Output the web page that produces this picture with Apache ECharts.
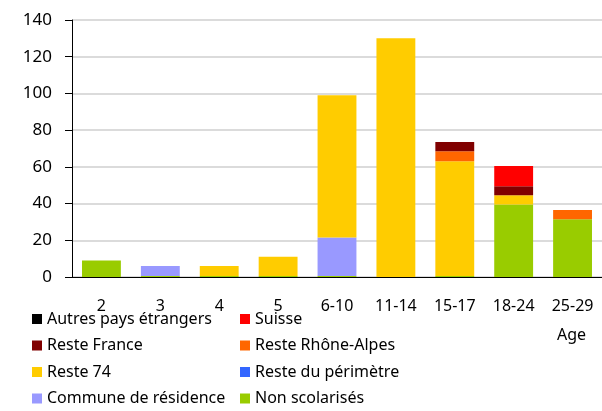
<!DOCTYPE html>
<html>
<head>
<meta charset="utf-8">
<script src="https://cdn.jsdelivr.net/npm/echarts@6/dist/echarts.min.js"></script>
<style>
    html, body { margin: 0; padding: 0; background: #fff; }
    #chart { width: 602px; height: 411px; }
</style>
</head>
<body>
<div id="chart"></div>
<script>
const categories = ['2', '3', '4', '5', '6-10', '11-14', '15-17', '18-24', '25-29']
const yTicks = [0, 20, 40, 60, 80, 100, 120, 140]

// stacked from bottom to top
const nonScolarises = [9, 0.5, 0.5, 0.5, 0.5, 0, 0.5, 39.5, 31.5]
const communeResidence = [0, 5.5, 0, 0, 21, 0, 0, 0, 0]
const restePerimetre = [0, 0, 0, 0, 0, 0, 0, 0, 0]
const reste74 = [0, 0, 5.5, 10.5, 77.5, 130, 62.5, 5, 0]
const resteRhoneAlpes = [0, 0, 0, 0, 0, 0, 5.5, 0, 5]
const resteFrance = [0, 0, 0, 0, 0, 0, 5, 5, 0]
const suisse = [0, 0, 0, 0, 0, 0, 0, 11, 0]
const autresPays = [0, 0, 0, 0, 0, 0, 0, 0, 0]

const font = 'Noto Sans'

const makeSeries = (name, data, color) => ({
    name: name,
    type: 'bar',
    stack: 'total',
    data: data,
    barCategoryGap: '34%',
    itemStyle: { color: color },
    emphasis: { disabled: true }
})

const legendText = { fontFamily: font, fontSize: 16, color: '#000', lineHeight: 16 }

const mychart = echarts.init(document.getElementById('chart'))
mychart.setOption({
    animation: false,
    grid: {
        left: 72,
        right: 0,
        top: 20,
        bottom: 134
    },
    legend: [
        {
            orient: 'vertical',
            left: 32,
            top: 311,
            height: 100,
            padding: 0,
            itemWidth: 10,
            itemHeight: 10,
            itemGap: 10.5,
            icon: 'rect',
            textStyle: legendText,
            data: ['Autres pays étrangers', 'Reste France', 'Reste 74', 'Commune de résidence']
        },
        {
            orient: 'vertical',
            left: 240,
            top: 311,
            height: 100,
            padding: 0,
            itemWidth: 10,
            itemHeight: 10,
            itemGap: 10.5,
            icon: 'rect',
            textStyle: legendText,
            data: ['Suisse', 'Reste Rhône-Alpes', 'Reste du périmètre', 'Non scolarisés']
        }
    ],
    xAxis: {
        type: 'category',
        data: categories,
        axisLine: { lineStyle: { color: '#000', width: 1 } },
        axisTick: { length: 7, lineStyle: { color: '#000' } },
        axisLabel: { fontFamily: font, fontSize: 16, color: '#000', margin: 21 }
    },
    yAxis: {
        type: 'value',
        min: yTicks[0],
        max: yTicks[yTicks.length - 1],
        interval: 20,
        axisLine: { show: true, lineStyle: { color: '#000', width: 1 } },
        axisTick: { show: true, length: 7, lineStyle: { color: '#000' } },
        axisLabel: { fontFamily: font, fontSize: 17, color: '#000', margin: 20 },
        splitLine: { lineStyle: { color: '#cfcfcf', width: 1.5 } }
    },
    graphic: [
        {
            type: 'text',
            left: 557,
            top: 327,
            style: { text: 'Age', fontFamily: font, fontSize: 16, fill: '#000' }
        }
    ],
    series: [
        makeSeries('Non scolarisés', nonScolarises, '#99CC00'),
        makeSeries('Commune de résidence', communeResidence, '#9999FF'),
        makeSeries('Reste du périmètre', restePerimetre, '#3366FF'),
        makeSeries('Reste 74', reste74, '#FFCC00'),
        makeSeries('Reste Rhône-Alpes', resteRhoneAlpes, '#FF6600'),
        makeSeries('Reste France', resteFrance, '#800000'),
        makeSeries('Suisse', suisse, '#FF0000'),
        makeSeries('Autres pays étrangers', autresPays, '#000000')
    ]
})
window.onresize = () => {
    mychart.resize()
}
</script>
</body>
</html>
